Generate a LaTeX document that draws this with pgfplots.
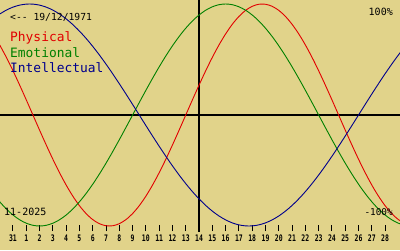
\documentclass[border=0pt]{standalone}
\usepackage{fontspec}
\setmainfont{Liberation Sans}
\setmonofont{DejaVu Sans Mono}
\newfontfamily\tickfont[FakeStretch=0.72]{DejaVu Sans Mono}
\usepackage{pgfplots}
\usepackage{pgfplotstable}
\pgfplotsset{compat=1.18}
\definecolor{bg}{RGB}{225,211,138}
\definecolor{pred}{RGB}{225,0,0}
\definecolor{egreen}{RGB}{0,128,0}
\definecolor{inavy}{RGB}{0,0,140}

\pgfplotstableread{
i P E I
-1 0.6311 -0.7818 0.9096
-0.5 0.5196 -0.8467 0.9450
0 0.3984 -0.9010 0.9718
0.5 0.2698 -0.9439 0.9898
1 0.1362 -0.9749 0.9989
1.5 0 -0.9937 0.9989
2 -0.1362 -1 0.9898
2.5 -0.2698 -0.9937 0.9718
3 -0.3984 -0.9749 0.9450
3.5 -0.5196 -0.9439 0.9096
4 -0.6311 -0.9010 0.8660
4.5 -0.7308 -0.8467 0.8146
5 -0.8170 -0.7818 0.7557
5.5 -0.8879 -0.7071 0.6901
6 -0.9423 -0.6235 0.6182
6.5 -0.9791 -0.5320 0.5406
7 -0.9977 -0.4339 0.4582
7.5 -0.9977 -0.3303 0.3717
8 -0.9791 -0.2225 0.2817
8.5 -0.9423 -0.1120 0.1893
9 -0.8879 0 0.0951
9.5 -0.8170 0.1120 0
10 -0.7308 0.2225 -0.0951
10.5 -0.6311 0.3303 -0.1893
11 -0.5196 0.4339 -0.2817
11.5 -0.3984 0.5320 -0.3717
12 -0.2698 0.6235 -0.4582
12.5 -0.1362 0.7071 -0.5406
13 0 0.7818 -0.6182
13.5 0.1362 0.8467 -0.6901
14 0.2698 0.9010 -0.7557
14.5 0.3984 0.9439 -0.8146
15 0.5196 0.9749 -0.8660
15.5 0.6311 0.9937 -0.9096
16 0.7308 1 -0.9450
16.5 0.8170 0.9937 -0.9718
17 0.8879 0.9749 -0.9898
17.5 0.9423 0.9439 -0.9989
18 0.9791 0.9010 -0.9989
18.5 0.9977 0.8467 -0.9898
19 0.9977 0.7818 -0.9718
19.5 0.9791 0.7071 -0.9450
20 0.9423 0.6235 -0.9096
20.5 0.8879 0.5320 -0.8660
21 0.8170 0.4339 -0.8146
21.5 0.7308 0.3303 -0.7557
22 0.6311 0.2225 -0.6901
22.5 0.5196 0.1120 -0.6182
23 0.3984 0 -0.5406
23.5 0.2698 -0.1120 -0.4582
24 0.1362 -0.2225 -0.3717
24.5 0 -0.3303 -0.2817
25 -0.1362 -0.4339 -0.1893
25.5 -0.2698 -0.5320 -0.0951
26 -0.3984 -0.6235 0
26.5 -0.5196 -0.7071 0.0951
27 -0.6311 -0.7818 0.1893
27.5 -0.7308 -0.8467 0.2817
28 -0.8170 -0.9010 0.3717
28.5 -0.8879 -0.9439 0.4582
29 -0.9423 -0.9749 0.5406
29.5 -0.9791 -0.9937 0.6182
}\bio

\begin{document}
\begin{tikzpicture}[x=1pt,y=1pt]
\path[use as bounding box, fill=bg] (0,-19) rectangle (400,231);
\begin{axis}[at={(0,0)}, anchor=south west, scale only axis,
  width=400pt, height=231pt,
  xmin=-0.978, xmax=29.12, ymin=-1.045, ymax=1.036,
  axis line style={draw=none},
  xtick={0,...,28},
  xticklabels={31,1,2,3,4,5,6,7,8,9,10,11,12,13,14,15,16,17,18,19,20,21,22,23,24,25,26,27,28},
  xtick pos=left, tick align=inside, major tick length=6pt,
  xtick style={black, line width=1pt},
  ytick=\empty,
  xticklabel style={font=\tickfont\bfseries\fontsize{9}{9}\selectfont, inner sep=0pt, anchor=north, yshift=-3.8pt},
  clip=true]
\addplot[black, line width=1.2pt] coordinates {(-1,0) (30,0)};
\addplot[black, line width=1.2pt] coordinates {(14,-1.1) (14,1.1)};
\addplot[pred, line width=0.9pt, smooth] table[x=i,y=P]{\bio};
\addplot[egreen, line width=0.9pt, smooth] table[x=i,y=E]{\bio};
\addplot[inavy, line width=0.9pt, smooth] table[x=i,y=I]{\bio};
\end{axis}
\node[anchor=west, inner sep=0pt, font=\ttfamily\fontsize{9.7}{10}\selectfont] at (10,214) {<-{}- 19/12/1971};
\node[anchor=west, inner sep=0pt, text=pred, font=\ttfamily\fontsize{12.9}{13}\selectfont] at (10,193) {Physical};
\node[anchor=west, inner sep=0pt, text=egreen, font=\ttfamily\fontsize{12.9}{13}\selectfont] at (10,178) {Emotional};
\node[anchor=west, inner sep=0pt, text=inavy, font=\ttfamily\fontsize{12.9}{13}\selectfont] at (10,163) {Intellectual};
\node[anchor=east, inner sep=0pt, font=\ttfamily\fontsize{10}{10}\selectfont] at (393,219) {100\%};
\node[anchor=east, inner sep=0pt, font=\ttfamily\fontsize{9.4}{10}\selectfont] at (393,19) {-100\%};
\node[anchor=west, inner sep=0pt, font=\ttfamily\fontsize{10}{10}\selectfont] at (4,19) {11-2025};
\end{tikzpicture}
\end{document}
